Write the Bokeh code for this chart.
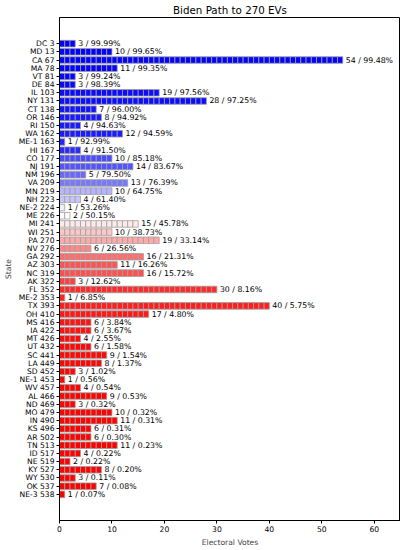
from bokeh.plotting import figure
from bokeh.models import FactorRange, FixedTicker, ColumnDataSource
from bokeh.core.properties import value
from bokeh.embed import file_html
from bokeh.resources import INLINE

title = "Biden Path to 270 EVs"
states = ["DC 3", "MD 13", "CA 67", "MA 78", "VT 81", "DE 84", "IL 103", "NY 131",
          "CT 138", "OR 146", "RI 150", "WA 162", "ME-1 163", "HI 167", "CO 177",
          "NJ 191", "NM 196", "VA 209", "MN 219", "NH 223", "NE-2 224", "ME 226",
          "MI 241", "WI 251", "PA 270", "NV 276", "GA 292", "AZ 303", "NC 319",
          "AK 322", "FL 352", "ME-2 353", "TX 393", "OH 410", "MS 416", "IA 422",
          "MT 426", "UT 432", "SC 441", "LA 449", "SD 452", "NE-1 453", "WV 457",
          "AL 466", "ND 469", "MO 479", "IN 490", "KS 496", "AR 502", "TN 513",
          "ID 517", "NE 519", "KY 527", "WY 530", "OK 537", "NE-3 538"]
evs = [3, 10, 54, 11, 3, 3, 19, 28, 7, 8, 4, 12, 1, 4, 10, 14, 5, 13, 10, 4, 1, 2,
       15, 10, 19, 6, 16, 11, 16, 3, 30, 1, 40, 17, 6, 6, 4, 6, 9, 8, 3, 1, 4, 9,
       3, 10, 11, 6, 6, 11, 4, 2, 8, 3, 7, 1]
probs = [99.99, 99.65, 99.48, 99.35, 99.24, 98.39, 97.56, 97.25, 96.00, 94.92, 94.63,
         94.59, 92.99, 91.50, 85.18, 83.67, 79.50, 76.39, 64.75, 61.40, 53.26, 50.15,
         45.78, 38.73, 33.14, 26.56, 21.31, 16.26, 15.72, 12.62, 8.16, 6.85, 5.75,
         4.80, 3.84, 3.67, 2.55, 1.58, 1.54, 1.37, 1.02, 0.56, 0.54, 0.53, 0.32,
         0.32, 0.31, 0.31, 0.30, 0.23, 0.22, 0.22, 0.20, 0.11, 0.08, 0.07]
x_ticks = [0, 10, 20, 30, 40, 50, 60]


def bwr_r(p):
    p = p / 100.0
    if p >= 0.5:
        t = (p - 0.5) / 0.5
        r, g, b = 1 - t, 1 - t, 1.0
    else:
        t = (0.5 - p) / 0.5
        r, g, b = 1.0, 1 - t, 1 - t
    return "#%02x%02x%02x" % (round(r * 255), round(g * 255), round(b * 255))


bx, by, bc = [], [], []
for s, e, pr in zip(states, evs, probs):
    for k in range(e):
        bx.append(k + 0.5)
        by.append(s)
        bc.append(bwr_r(pr))
blocks = ColumnDataSource(dict(x=bx, y=by, c=bc))
labels = ColumnDataSource(dict(x=evs, y=states,
                               t=[f"{e} / {pr:.2f}%" for e, pr in zip(evs, probs)]))

FONT = "DejaVu Sans"
p = figure(frame_width=341, frame_height=503, output_backend="svg", toolbar_location=None,
           x_range=(0, 65),
           y_range=FactorRange(factors=list(reversed(states)), range_padding=0.096,
                               range_padding_units="percent"),
           min_border_left=50, min_border_right=0, min_border_top=0, min_border_bottom=0)
p.title.text = title
p.title.align = "center"
p.title.text_font = FONT
p.title.text_font_size = "10.3px"
p.title.text_font_style = "normal"
p.title.text_color = "black"
p.title.standoff = 3
p.title.offset = 0

p.rect(x="x", y="y", width=1, height=0.8, source=blocks, fill_color="c",
       line_color="#a0a0a0", line_width=0.8)
p.text(x="x", y="y", text="t", source=labels, x_offset=3, text_font=value(FONT),
       text_font_size="7.8px", text_baseline="middle", text_align="left", text_color="black")

p.grid.visible = False
p.outline_line_color = "black"
p.outline_line_width = 1
p.background_fill_color = "white"
p.border_fill_color = "white"

p.xaxis.ticker = FixedTicker(ticks=x_ticks)
p.xaxis.axis_label = "Electoral Votes"
p.yaxis.axis_label = "State"
for ax in (p.xaxis, p.yaxis):
    ax.axis_label_text_font = FONT
    ax.axis_label_text_font_size = "7.6px"
    ax.axis_label_text_font_style = "normal"
    ax.axis_label_standoff = 3
    ax.major_label_text_font = FONT
    ax.major_label_text_font_size = "7.6px"
    ax.major_label_standoff = 2
    ax.major_tick_out = 3
    ax.major_tick_in = 0
    ax.minor_tick_out = 0
    ax.minor_tick_in = 0
    ax.axis_line_color = "black"
    ax.major_tick_line_color = "black"
    ax.major_label_text_color = "black"

open("out.html", "w").write(file_html(p, INLINE))
